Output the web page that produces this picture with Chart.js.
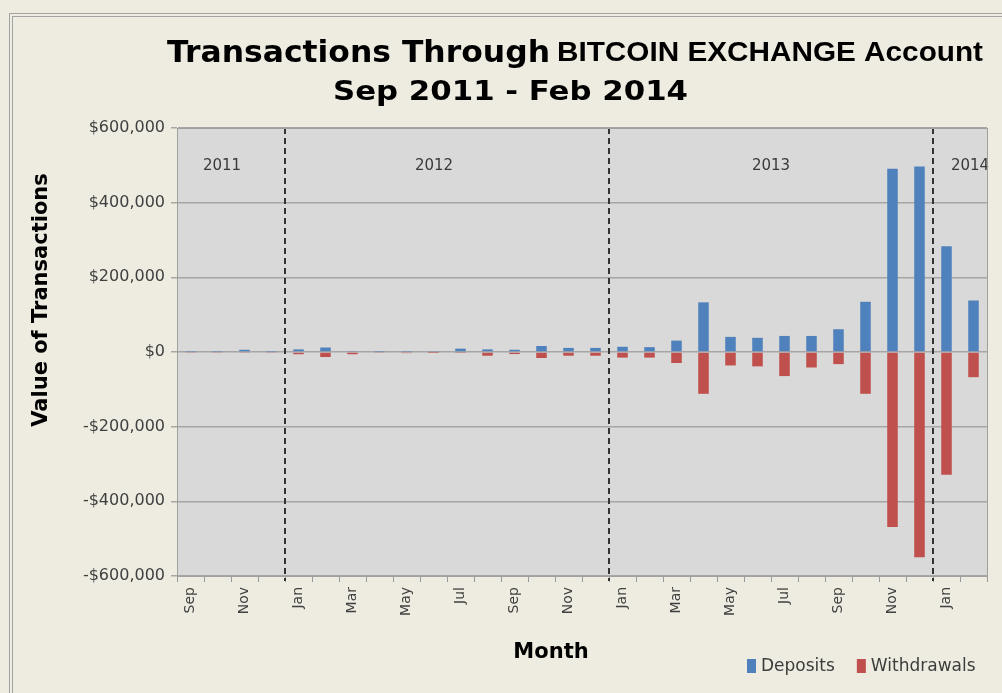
<!DOCTYPE html>
<html>
<head>
<meta charset="utf-8">
<title>Transactions Through BITCOIN EXCHANGE Account</title>
<script src="https://cdn.jsdelivr.net/npm/chart.js@4.4.1/dist/chart.umd.min.js"></script>
<style>
  html, body { margin: 0; padding: 0; background: #EEECE1; overflow: hidden; }
  #frame { position: absolute; left: 9px; top: 13px; width: 1100px; height: 800px;
           border-left: 4px double #a3a3a3; border-top: 4px double #a3a3a3; }
  #wrap { position: absolute; left: 0; top: 0; width: 1002px; height: 693px; }
</style>
</head>
<body>
<div id="frame"></div>
<div id="wrap"><canvas id="chart" width="1002" height="693"></canvas></div>
<script>
// 月 (Sep 2011 - Feb 2014)
let months = ['Sep','Oct','Nov','Dec',
  'Jan','Feb','Mar','Apr','May','Jun','Jul','Aug','Sep','Oct','Nov','Dec',
  'Jan','Feb','Mar','Apr','May','Jun','Jul','Aug','Sep','Oct','Nov','Dec',
  'Jan','Feb'];
let years = ['2011', '2012', '2013', '2014'];

// 入金 / 出金 (USD)
let deposits = [1000, 1000, 6000, 1000,
  7000, 12000, 1500, 1000, 1000, 1500, 9000, 7000, 6000, 16000, 11000, 11000,
  14000, 13000, 30500, 133000, 40500, 38000, 43000, 43000, 61000, 134500, 491000, 497000,
  283500, 138000];
let withdrawals = [-2500, -2500, -1500, -2500,
  -6000, -13500, -6000, -2500, -3000, -500, -1000, -10000, -5500, -16000, -10000, -10000,
  -15000, -15000, -29500, -112000, -36000, -38500, -64500, -41500, -32500, -112000, -469000, -550000,
  -329000, -67500];

let yTicks = [-600000, -400000, -200000, 0, 200000, 400000, 600000];

let titleLine1a = 'Transactions Through';
let titleLine1b = 'BITCOIN EXCHANGE Account';
let titleLine2 = 'Sep 2011 - Feb 2014';
let xTitle = 'Month';
let yTitle = 'Value of Transactions';

function money(v) {
  return (v < 0 ? '-' : '') + '$' + Math.abs(v).toLocaleString('en-US');
}

// 幅に合わせて文字を描く
function fitText(ctx, text, x, y, w, font) {
  ctx.font = font;
  let m = ctx.measureText(text).width;
  ctx.save();
  ctx.translate(x, y);
  ctx.scale(w / m, 1);
  ctx.fillText(text, 0, 0);
  ctx.restore();
}

let decor = {
  id: 'decor',
  beforeDraw(chart) {
    let a = chart.chartArea;
    let ctx = chart.ctx;
    ctx.save();
    ctx.fillStyle = '#D9D9D9';
    ctx.fillRect(a.left, a.top, a.right - a.left, a.bottom - a.top);
    ctx.restore();
  },
  afterDatasetsDraw(chart) {
    let a = chart.chartArea;
    let ctx = chart.ctx;
    let xs = chart.scales.x;
    // 年の区切り
    let starts = [0];
    months.forEach((m, i) => { if (i > 0 && m === 'Jan') starts.push(i); });
    ctx.save();
    ctx.strokeStyle = '#333';
    ctx.lineWidth = 2;
    ctx.setLineDash([6, 4]);
    starts.slice(1).forEach(i => {
      let x = Math.round((xs.getPixelForValue(i - 1) + xs.getPixelForValue(i)) / 2);
      ctx.beginPath();
      ctx.moveTo(x, a.top);
      ctx.lineTo(x, a.bottom + 5);
      ctx.stroke();
    });
    ctx.setLineDash([]);
    ctx.fillStyle = '#3a3a3a';
    ctx.font = '15px "DejaVu Sans"';
    ctx.textAlign = 'center';
    ctx.textBaseline = 'middle';
    years.forEach((yr, k) => {
      let s = starts[k];
      let e = (k + 1 < starts.length ? starts[k + 1] : months.length) - 1;
      let x = (xs.getPixelForValue(s) + xs.getPixelForValue(e)) / 2;
      if (k === 0) x -= 9;
      if (k === 1) x -= 13;
      if (k === years.length - 1) x += 10;
      ctx.fillText(yr, x, a.top + 38);
    });
    ctx.restore();
  },
  afterDraw(chart) {
    let a = chart.chartArea;
    let ctx = chart.ctx;
    ctx.save();
    // 枠
    ctx.strokeStyle = '#a0a0a0';
    ctx.lineWidth = 1;
    ctx.strokeRect(a.left + 0.5, a.top + 0.5, a.right - a.left, a.bottom - a.top);
    // タイトル
    ctx.fillStyle = '#000';
    ctx.textBaseline = 'alphabetic';
    ctx.textAlign = 'left';
    fitText(ctx, titleLine1a, 167, 62, 383, 'bold 30px "DejaVu Sans"');
    fitText(ctx, titleLine1b, 557, 61, 426, 'bold 28px "Liberation Sans Narrow", "Liberation Sans"');
    fitText(ctx, titleLine2, 333, 100, 355, 'bold 27px "DejaVu Sans"');
    // 軸タイトル
    ctx.textAlign = 'center';
    ctx.textBaseline = 'middle';
    ctx.font = 'bold 21px "DejaVu Sans"';
    ctx.fillText(xTitle, 551, 653);
    ctx.save();
    ctx.translate(42, 300);
    ctx.rotate(-Math.PI / 2);
    ctx.font = 'bold 21px "DejaVu Sans"';
    ctx.fillText(yTitle, 0, 0);
    ctx.restore();
    // 凡例
    let lx = 747;
    let ly = 666;
    ctx.textAlign = 'left';
    ctx.font = '17px "DejaVu Sans"';
    chart.data.datasets.forEach(ds => {
      ctx.fillStyle = ds.backgroundColor;
      ctx.fillRect(lx, ly - 7, 9, 14);
      ctx.fillStyle = '#3c3c3c';
      ctx.fillText(ds.label, lx + 14, ly + 1);
      lx += 14 + ctx.measureText(ds.label).width + 22;
    });
    ctx.restore();
  }
};

let lineCtx = document.getElementById('chart');
let chart = new Chart(lineCtx, {
  type: 'bar',
  data: {
    labels: months,
    datasets: [{
      label: 'Deposits',
      data: deposits,
      backgroundColor: '#4F81BD'
    }, {
      label: 'Withdrawals',
      data: withdrawals,
      backgroundColor: '#C0504D'
    }]
  },
  options: {
    responsive: false,
    animation: false,
    layout: { padding: { top: 128, left: 20, right: 15, bottom: 20 } },
    datasets: { bar: { barPercentage: 0.39, categoryPercentage: 1 } },
    plugins: {
      legend: { display: false },
      tooltip: { enabled: false },
      title: { display: false }
    },
    scales: {
      x: {
        stacked: true,
        afterFit(s) { s.height = 97; },
        grid: { drawOnChartArea: false, drawTicks: true, tickLength: 6, color: '#999', offset: true },
        border: { color: '#a0a0a0' },
        ticks: {
          autoSkip: false,
          maxRotation: 90,
          minRotation: 90,
          padding: 5,
          color: '#404040',
          font: { family: 'DejaVu Sans', size: 14 },
          callback: (v, i) => (i % 2 === 0 ? months[i] : '')
        }
      },
      y: {
        stacked: true,
        min: -600000,
        max: 600000,
        afterFit(s) { s.width = 157; },
        afterBuildTicks(s) { s.ticks = yTicks.map(v => ({ value: v })); },
        grid: { color: '#a6a6a6', lineWidth: 1.5, tickLength: 6 },
        border: { color: '#a0a0a0' },
        ticks: {
          padding: 6,
          color: '#404040',
          font: { family: 'DejaVu Sans', size: 16 },
          callback: v => money(v)
        }
      }
    }
  },
  plugins: [decor]
});
</script>
</body>
</html>
